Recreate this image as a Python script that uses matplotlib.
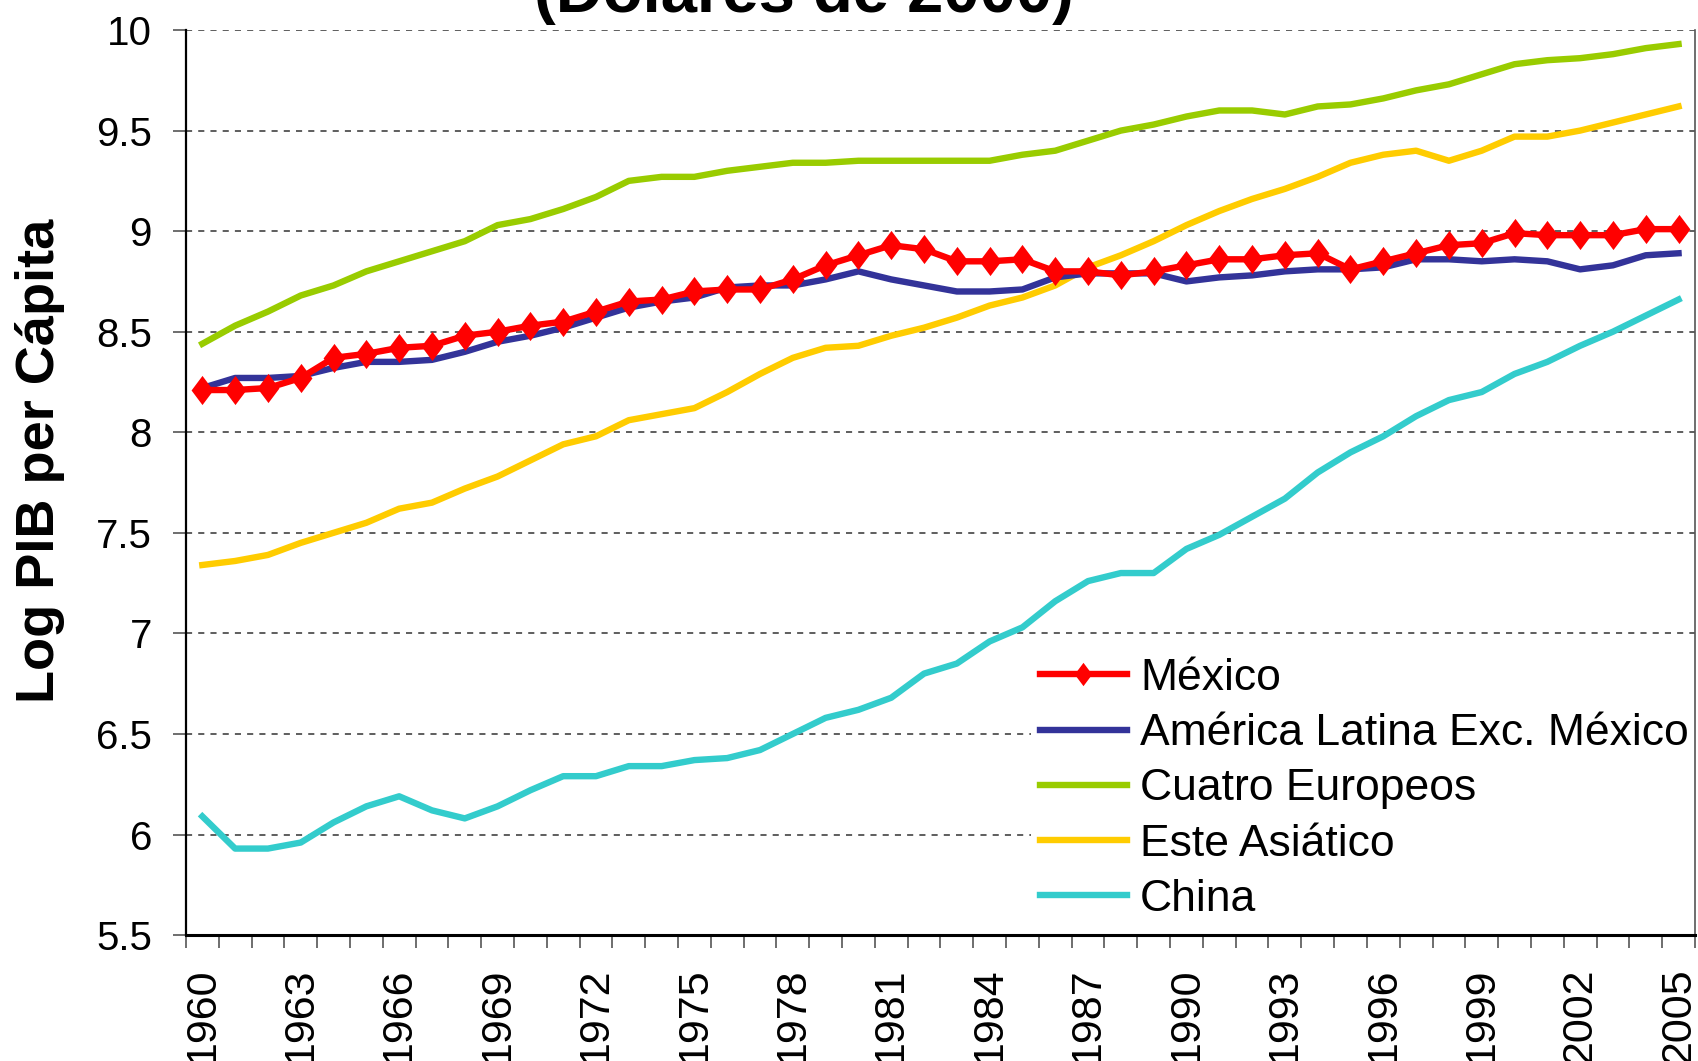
import matplotlib
matplotlib.use("Agg")
import matplotlib.pyplot as plt
import numpy as np

plt.rcParams['font.family'] = ['Liberation Sans', 'DejaVu Sans']

# Data (log PIB per capita)
years = list(range(1960, 2006))

mexico = [8.21, 8.21, 8.22, 8.27, 8.37, 8.39, 8.42, 8.43, 8.48, 8.50,
          8.53, 8.55, 8.60, 8.65, 8.66, 8.70, 8.71, 8.71, 8.76, 8.83,
          8.88, 8.93, 8.91, 8.85, 8.85, 8.86, 8.80, 8.80, 8.78, 8.80,
          8.83, 8.86, 8.86, 8.88, 8.89, 8.81, 8.85, 8.89, 8.93, 8.94,
          8.99, 8.98, 8.98, 8.98, 9.01, 9.01]

america_latina = [8.22, 8.27, 8.27, 8.28, 8.32, 8.35, 8.35, 8.36, 8.40, 8.45,
                  8.48, 8.52, 8.57, 8.62, 8.65, 8.67, 8.72, 8.73, 8.73, 8.76,
                  8.80, 8.76, 8.73, 8.70, 8.70, 8.71, 8.77, 8.79, 8.79, 8.79,
                  8.75, 8.77, 8.78, 8.80, 8.81, 8.81, 8.82, 8.86, 8.86, 8.85,
                  8.86, 8.85, 8.81, 8.83, 8.88, 8.89]

cuatro_europeos = [8.44, 8.53, 8.60, 8.68, 8.73, 8.80, 8.85, 8.90, 8.95, 9.03,
                   9.06, 9.11, 9.17, 9.25, 9.27, 9.27, 9.30, 9.32, 9.34, 9.34,
                   9.35, 9.35, 9.35, 9.35, 9.35, 9.38, 9.40, 9.45, 9.50, 9.53,
                   9.57, 9.60, 9.60, 9.58, 9.62, 9.63, 9.66, 9.70, 9.73, 9.78,
                   9.83, 9.85, 9.86, 9.88, 9.91, 9.93]

este_asiatico = [7.34, 7.36, 7.39, 7.45, 7.50, 7.55, 7.62, 7.65, 7.72, 7.78,
                 7.86, 7.94, 7.98, 8.06, 8.09, 8.12, 8.20, 8.29, 8.37, 8.42,
                 8.43, 8.48, 8.52, 8.57, 8.63, 8.67, 8.73, 8.82, 8.88, 8.95,
                 9.03, 9.10, 9.16, 9.21, 9.27, 9.34, 9.38, 9.40, 9.35, 9.40,
                 9.47, 9.47, 9.50, 9.54, 9.58, 9.62]

china = [6.09, 5.93, 5.93, 5.96, 6.06, 6.14, 6.19, 6.12, 6.08, 6.14,
         6.22, 6.29, 6.29, 6.34, 6.34, 6.37, 6.38, 6.42, 6.50, 6.58,
         6.62, 6.68, 6.80, 6.85, 6.96, 7.03, 7.16, 7.26, 7.30, 7.30,
         7.42, 7.49, 7.58, 7.67, 7.80, 7.90, 7.98, 8.08, 8.16, 8.20,
         8.29, 8.35, 8.43, 8.50, 8.58, 8.66]

y_ticks = [5.5, 6, 6.5, 7, 7.5, 8, 8.5, 9, 9.5, 10]

# Excel-style tall diamond
DIAMOND = [(0, 1), (0.75, 0), (0, -1), (-0.75, 0), (0, 1)]

fig = plt.figure(figsize=(16.98, 10.61), dpi=100, facecolor='white')
ax = fig.add_axes([0.1095, 0.1187, 0.8887, 0.853])

x = np.arange(len(years))
LW = 4.6

ax.plot(x, china, color='#33CCCC', lw=LW, label='China', zorder=3)
ax.plot(x, este_asiatico, color='#FFCC00', lw=LW, label='Este Asiático', zorder=3)
ax.plot(x, cuatro_europeos, color='#99CC00', lw=LW, label='Cuatro Europeos', zorder=3)
ax.plot(x, america_latina, color='#333399', lw=LW, label='América Latina Exc. México', zorder=4)
ax.plot(x, mexico, color='#FF0000', lw=LW, marker=DIAMOND, markersize=21,
        markeredgewidth=0, label='México', zorder=5)

ax.set_xlim(-0.5, len(years) - 0.5)
ax.set_ylim(5.5, 10)

# y axis
ax.set_yticks(y_ticks)
ax.set_yticklabels([f'{v:g}' for v in y_ticks])
ax.tick_params(axis='y', direction='out', length=9.5, width=1.2, color='#555555',
               labelsize=29, pad=15)
ax.yaxis.grid(True, linestyle=(0, (4, 4)), color='#333333', lw=1.1)
ax.set_axisbelow(True)

# x axis: tick marks between categories, labels every 3 years
ax.set_xticks(np.arange(-0.5, len(years), 1.0))
ax.set_xticklabels([])
ax.set_xticks(x[::3], minor=True)
ax.set_xticklabels([str(y) for y in years[::3]], minor=True, rotation=90,
                   fontsize=31, va='top')
ax.tick_params(axis='x', which='major', direction='out', length=9, width=1.2,
               color='#555555')
ax.tick_params(axis='x', which='minor', length=0, pad=23)

ax.set_ylabel('Log PIB per Cápita', fontsize=39, fontweight='bold')
ax.yaxis.set_label_coords(-0.080, 0.524)

for side in ['left', 'bottom']:
    ax.spines[side].set_color('black')
    ax.spines[side].set_linewidth(1.6)
ax.spines['bottom'].set_linewidth(2.2)
ax.spines['right'].set_color('#555555')
ax.spines['right'].set_linewidth(1.2)
ax.spines['top'].set_visible(False)
for sp in ax.spines.values():
    sp.set_zorder(10)

# legend order as in the original (white box, no border)
handles, labels = ax.get_legend_handles_labels()
order = ['México', 'América Latina Exc. México', 'Cuatro Europeos',
         'Este Asiático', 'China']
hmap = dict(zip(labels, handles))
leg = ax.legend([hmap[k] for k in order], order, loc='upper left',
                bbox_to_anchor=(1031 / 1698, 1 - 649 / 1061),
                bbox_transform=fig.transFigure, frameon=True, fontsize=32,
                handlelength=1.95, handletextpad=0.3, labelspacing=0.32,
                borderpad=0.2, borderaxespad=0, markerscale=0.8,
                fancybox=False, framealpha=1, facecolor='white')
leg.get_frame().set_linewidth(0)
leg.set_zorder(6)

# title, cut off at the top like in the source image
fig.text(804 / 1698, 1 - 12 / 1061, '(Dólares de 2000)', ha='center',
         va='baseline', fontsize=47, fontweight='bold')

fig.savefig('out.png', dpi=100, facecolor='white')
